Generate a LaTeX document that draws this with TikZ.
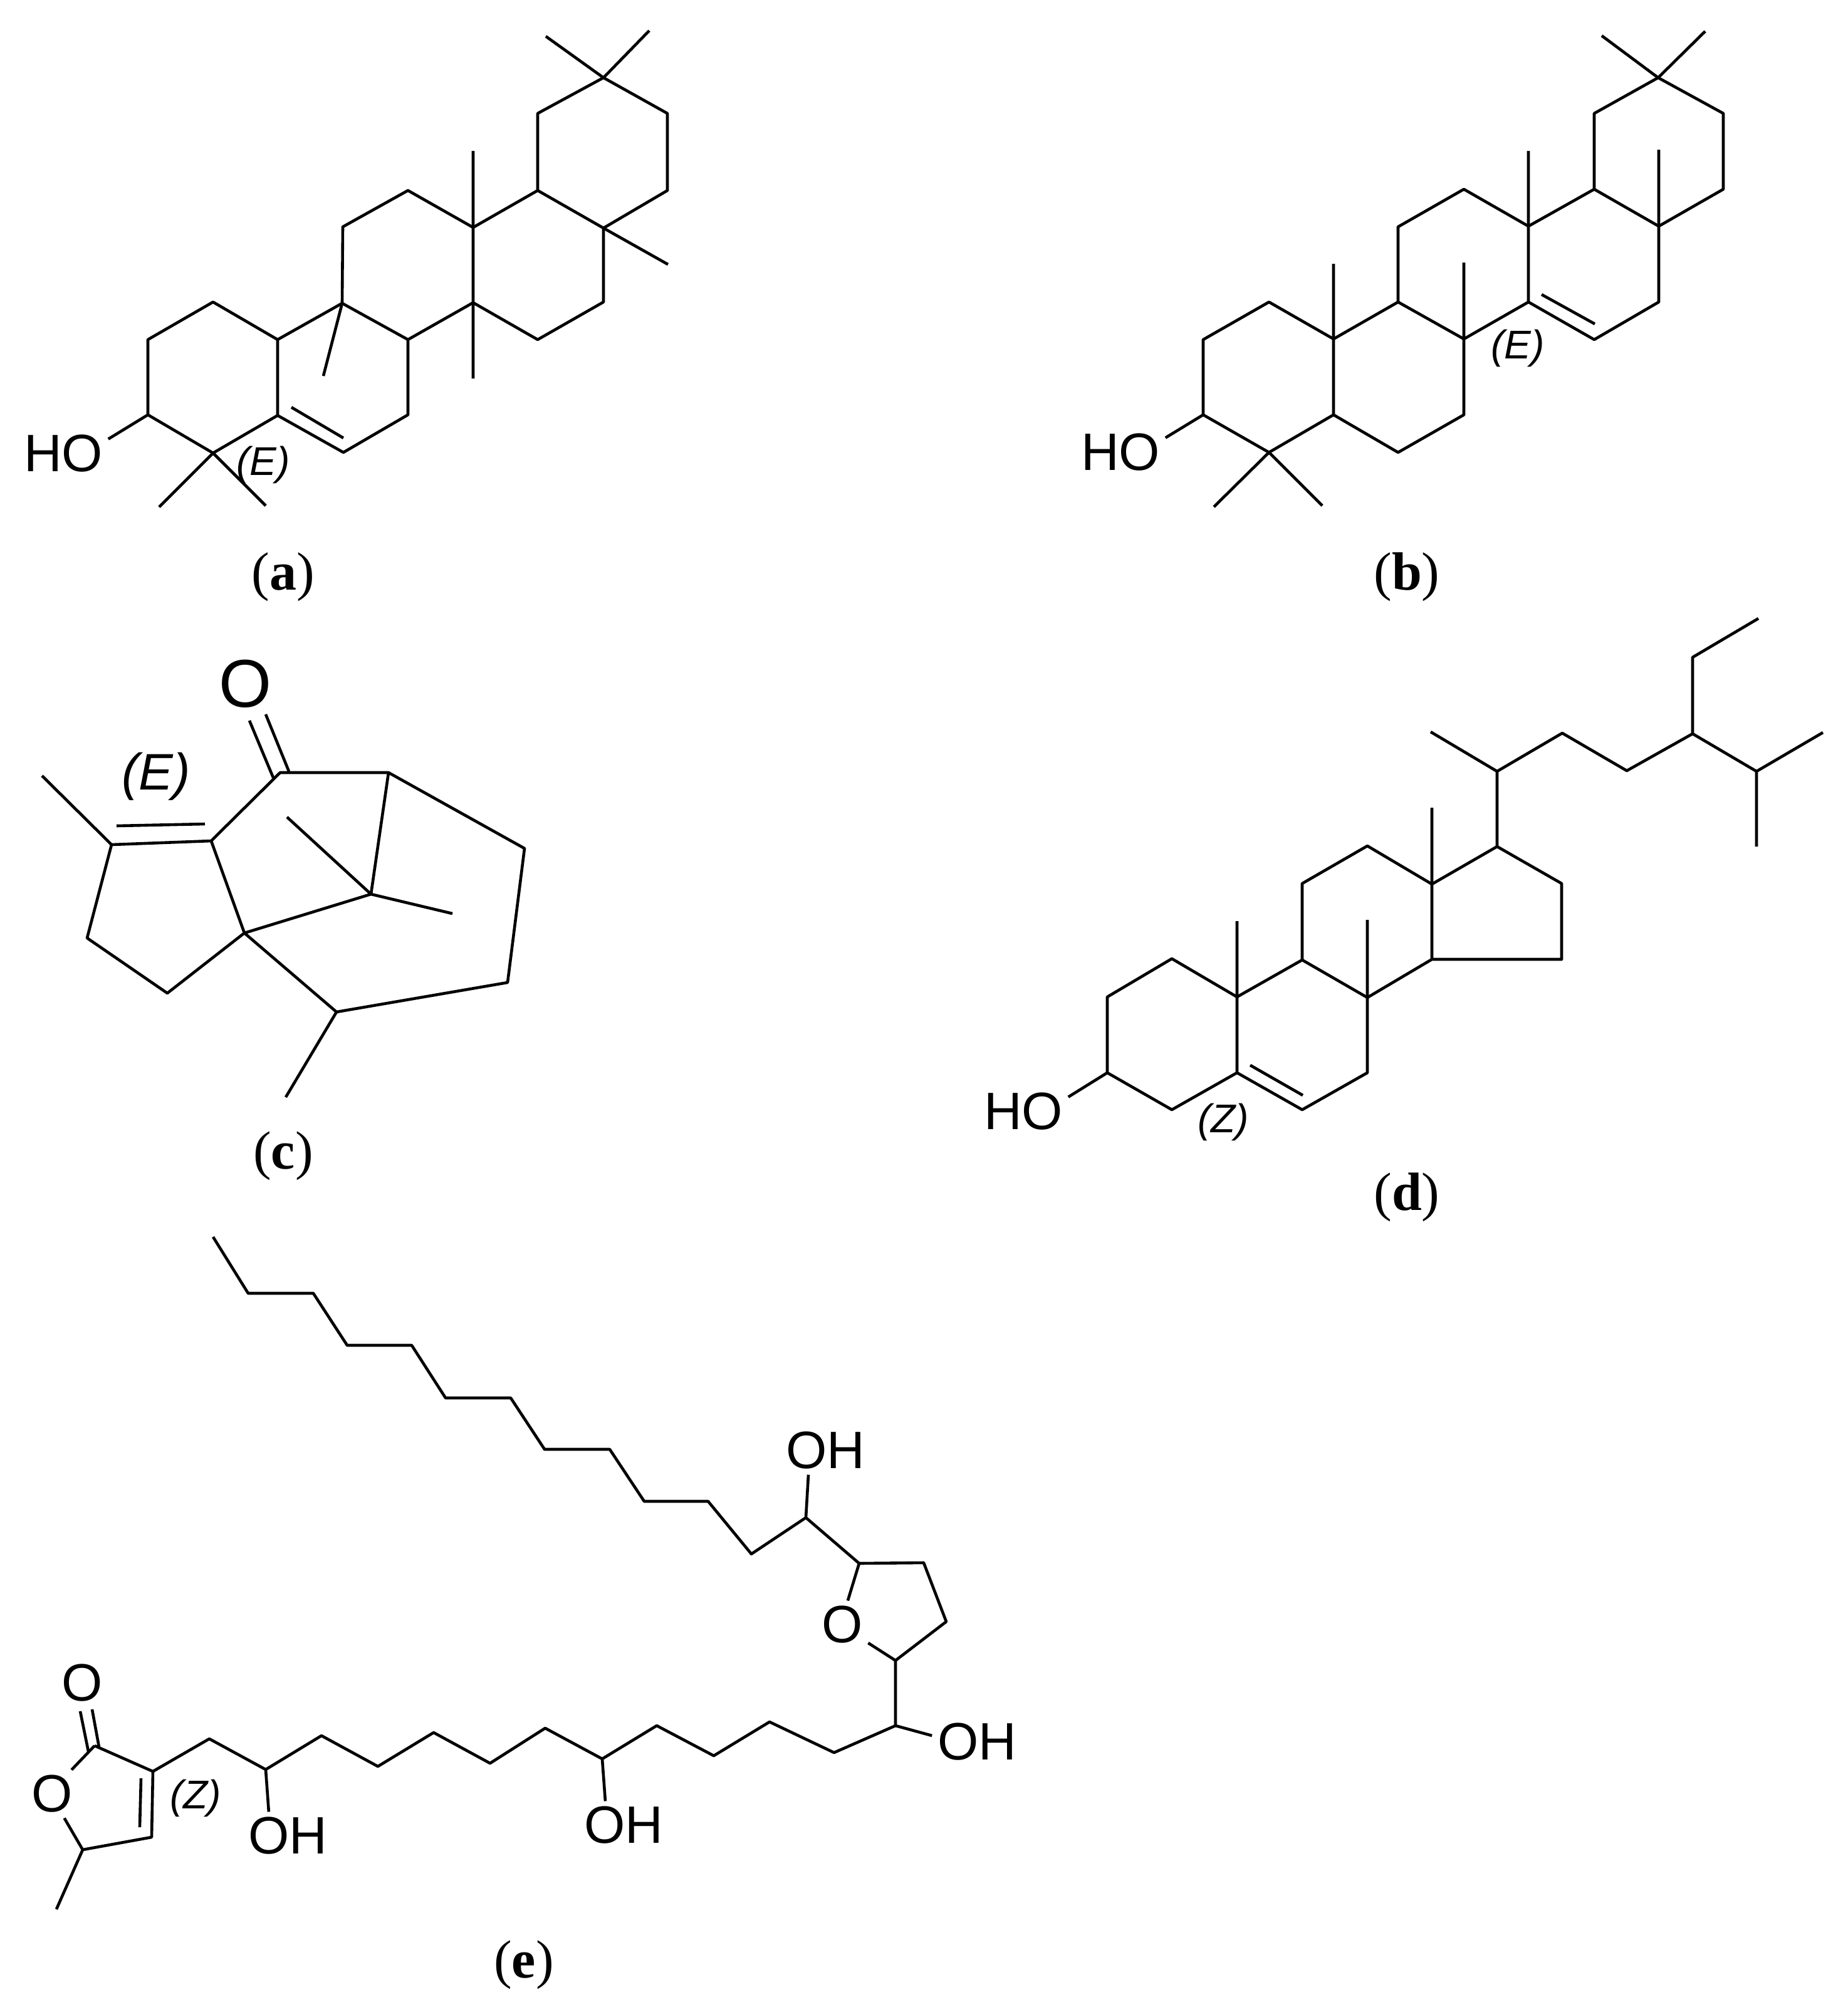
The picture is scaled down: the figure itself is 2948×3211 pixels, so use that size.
\documentclass[tikz,border=0pt]{standalone}
\usepackage{fontspec}
\setmainfont{Liberation Sans}
\newfontfamily\capfont{Liberation Serif}
\tikzset{
bond/.style={line width=1.15pt,line join=round},
atom/.style={inner sep=2pt,font=\fontsize{21}{24}\selectfont},
bigatom/.style={inner sep=2pt,font=\fontsize{27}{30}\selectfont},
stereo/.style={inner sep=0pt,font=\fontsize{16}{18}\selectfont\itshape},
bigstereo/.style={inner sep=0pt,font=\fontsize{20.5}{24}\selectfont\itshape},
subcap/.style={inner sep=0pt,font=\fontsize{21.5}{24}\selectfont\capfont}
}
\begin{document}
\begin{tikzpicture}[x=.25pt,y=-.25pt]
\useasboundingbox (0,0) rectangle (2948,3211);
\foreach \n/\x/\y in {a1/236/662,a2/236/542,a3/340/482,a4/443/542,a5/443/663,a6/340/723,a7/548/722,a8/651/662,a9/651/542,a10/546/484,a11/547/362,a12/651/304,a13/755/363,a14/755/483,a15/858/304,a16/963/364,a17/963/482,a18/858/542,a19/858/181,a20/963/124,a21/1065/181,a22/1065/304,am1/254/809,am2/424/807,am3/516/600,am4/755/241,am5/755/604,am6/1066/422,am7/871/58,am8/1036/49,ad1/465/650,ad2/548/699}\coordinate (\n) at (\x,\y);
\node[atom] (hoa) at (101,724) {HO};
\node[stereo] (ea) at (420,742) {(E)};
\node[subcap] (capa) at (452,921) {(\textbf{a})};
\draw[bond] (a1)--(a2)--(a3)--(a4)--(a5)--(a6)--cycle (a5)--(a7)--(a8)--(a9)--(a10)--(a4) (a10)--(a11)--(a12)--(a13)--(a14)--(a9) (a13)--(a15)--(a16)--(a17)--(a18)--(a14) (a15)--(a19)--(a20)--(a21)--(a22)--(a16);
\draw[bond] (a6)--(am1) (a6)--(am2) (a10)--(am3) (a13)--(am4) (a14)--(am5) (a16)--(am6) (a20)--(am7) (a20)--(am8) (ad1)--(ad2) (a1)--(hoa.18);
\foreach \n/\x/\y in {b1/1920/662,b2/1920/542,b3/2025/482,b4/2128/541,b5/2128/662,b6/2025/722,b7/2231/722,b8/2336/662,b9/2336/541,b10/2231/482,b11/2231/362,b12/2336/302,b13/2439/361,b14/2439/482,b15/2544/302,b16/2647/361,b17/2647/482,b18/2544/542,b19/2544/181,b20/2646/124,b21/2750/181,b22/2750/302,bm1/1937/809,bm2/2110/807,bm3/2128/421,bm4/2336/419,bm5/2439/241,bm6/2647/239,bm7/2556/57,bm8/2721/50,bd1/2460/470,bd2/2545/517}\coordinate (\n) at (\x,\y);
\node[atom] (hob) at (1788,722) {HO};
\node[stereo] (eb) at (2422,556) {(E)};
\node[subcap] (capb) at (2245,921) {(\textbf{b})};
\draw[bond] (b1)--(b2)--(b3)--(b4)--(b5)--(b6)--cycle (b5)--(b7)--(b8)--(b9)--(b10)--(b4) (b10)--(b11)--(b12)--(b13)--(b14)--(b9) (b13)--(b15)--(b16)--(b17)--(b18)--(b14) (b15)--(b19)--(b20)--(b21)--(b22)--(b16);
\draw[bond] (b6)--(bm1) (b6)--(bm2) (b4)--(bm3) (b9)--(bm4) (b13)--(bm5) (b16)--(bm6) (b20)--(bm7) (b20)--(bm8) (bd1)--(bd2) (b1)--(hob.18);
\foreach \n/\x/\y in {c1/447/1233,c2/620/1233,c3/837/1354,c4/810/1568,c5/537/1615,c6/390/1489,c7/592/1427,c8/337/1342,c9/178/1348,c10/139/1497,c11/267/1585,cm1/456/1751,cm2/458/1304,cm3/722/1458,cm4/67/1238,cd1/186/1318,cd2/327/1315,co1/398/1150,co2/436/1241,co3/424/1140,co4/461/1231}\coordinate (\n) at (\x,\y);
\node[bigatom] (oc) at (391,1091) {O};
\node[bigstereo] (ec) at (249,1239) {(E)};
\node[subcap] (capc) at (452,1845) {(\textbf{c})};
\draw[bond] (c1)--(c2)--(c3)--(c4)--(c5)--(c6)--(c8)--cycle (c2)--(c7)--(c6) (c8)--(c9)--(c10)--(c11)--(c6);
\draw[bond] (c5)--(cm1) (c7)--(cm2) (c7)--(cm3) (c9)--(cm4) (cd1)--(cd2) (co1)--(co2) (co3)--(co4);
\foreach \n/\x/\y in {d1/1767/1712,d2/1767/1591,d3/1870/1530,d4/1974/1591,d5/1974/1712,d6/1870/1771,d7/2078/1771,d8/2182/1712,d9/2182/1592,d10/2078/1532,d11/2078/1410,d12/2182/1350,d13/2285/1411,d14/2285/1531,d15/2389/1351,d16/2492/1410,d17/2492/1531,d18/2389/1231,d19/2493/1170,d20/2596/1230,d21/2701/1171,d22/2701/1049,d23/2806/987,d24/2803/1231,d25/2909/1169,d26/2803/1351,dm1/1974/1470,dm2/2182/1468,dm3/2285/1289,dm4/2283/1168,dd1/1995/1700,dd2/2079/1748}\coordinate (\n) at (\x,\y);
\node[atom] (hod) at (1633,1774) {HO};
\node[stereo] (zd) at (1952,1791) {(Z)};
\node[subcap] (capd) at (2245,1911) {(\textbf{d})};
\draw[bond] (d1)--(d2)--(d3)--(d4)--(d5)--(d6)--cycle (d5)--(d7)--(d8)--(d9)--(d10)--(d4) (d10)--(d11)--(d12)--(d13)--(d14)--(d9) (d13)--(d15)--(d16)--(d17)--(d14) (d15)--(d18)--(d19)--(d20)--(d21)--(d22)--(d23) (d21)--(d24)--(d25) (d24)--(d26);
\draw[bond] (d4)--(dm1) (d9)--(dm2) (d13)--(dm3) (d18)--(dm4) (dd1)--(dd2) (d1)--(hod.18);
\foreach \n/\x/\y in {e1/151/2786,e2/244/2827,e3/242/2932,e4/132/2952,e5/334/2775,e6/424/2824,e7/513/2770,e8/603/2819,e9/692/2765,e10/782/2814,e11/870/2758,e12/961/2807,e13/1048/2754,e14/1139/2802,e15/1228/2748,e16/1331/2797,e17/1429/2754,e18/1429/2650,e19/1510/2588,e20/1474/2494,e21/1371/2495,e22/1286/2422,e23/1199/2480,e24/1130/2396,e25/1028/2396,e26/973/2313,e27/869/2313,e28/815/2231,e29/711/2231,e30/657/2147,e31/554/2147,e32/500/2064,e33/396/2064,e34/340/1974,em1/90/3047,ed1/225/2838,ed2/223/2916,eo1/128/2731,eo2/141/2795,eo3/147/2728,eo4/158/2788}\coordinate (\n) at (\x,\y);
\node[atom] (oe1) at (131,2686) {O};
\node[atom] (oe2) at (83,2863) {O};
\node[atom] (oe3) at (1344,2593) {O};
\node[atom] (ohe1) at (459,2930) {OH};
\node[atom] (ohe2) at (995,2913) {OH};
\node[atom] (ohe3) at (1559,2780) {OH};
\node[atom] (ohe4) at (1317,2315) {OH};
\node[stereo] (ze) at (312,2870) {(Z)};
\node[subcap] (cape) at (836,3136) {(\textbf{e})};
\draw[bond] (e4)--(e3)--(e2)--(e1) (e2)--(e5)--(e6)--(e7)--(e8)--(e9)--(e10)--(e11)--(e12)--(e13)--(e14)--(e15)--(e16)--(e17)--(e18)--(e19)--(e20)--(e21)--(e22)--(e23)--(e24)--(e25)--(e26)--(e27)--(e28)--(e29)--(e30)--(e31)--(e32)--(e33)--(e34);
\draw[bond] (e4)--(em1) (ed1)--(ed2) (eo1)--(eo2) (eo3)--(eo4) (e1)--(oe2.51) (oe2.-63)--(e4) (e21)--(oe3.77) (oe3.-35)--(e18) (e6)--(ohe1.128) (e12)--(ohe2.127) (e17)--(ohe3.172) (e22)--(ohe4.-125);
\end{tikzpicture}
\end{document}
